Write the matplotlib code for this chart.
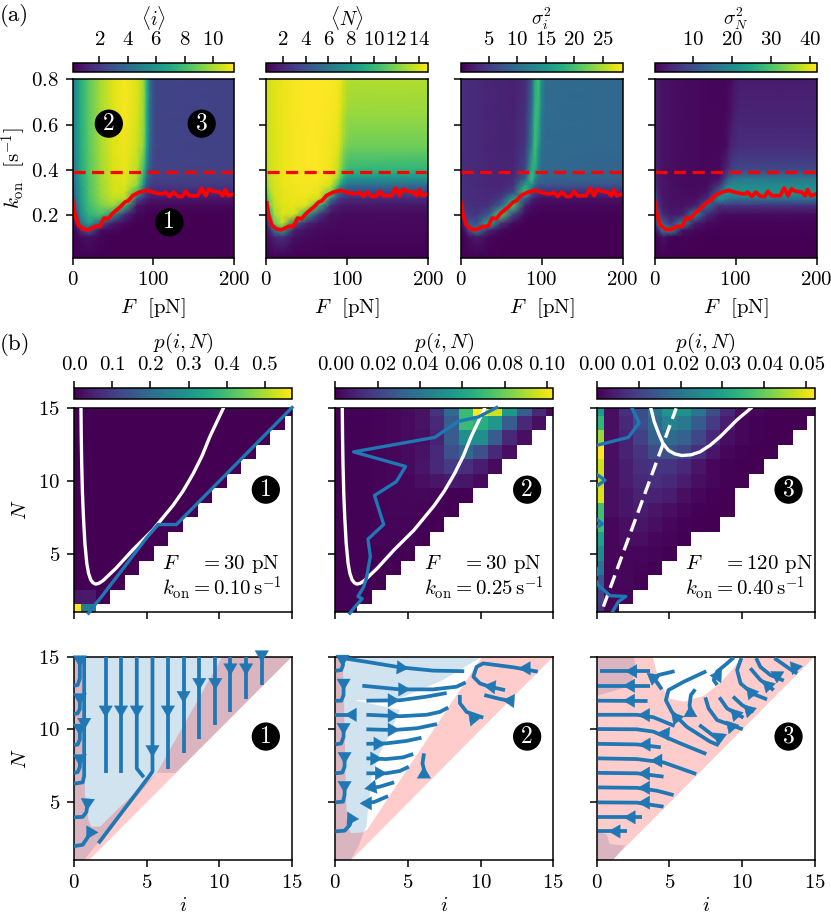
import numpy as np
import matplotlib
matplotlib.use('Agg')
import matplotlib.pyplot as plt
from matplotlib.patches import FancyArrowPatch

plt.rcParams.update({
    'font.family': ['cmr10', 'DejaVu Serif'], 'mathtext.fontset': 'cm',
    'axes.unicode_minus': False, 'axes.formatter.use_mathtext': True,
    'font.size': 15, 'axes.linewidth': 1.1,
    'xtick.major.width': 1.1, 'ytick.major.width': 1.1,
    'xtick.major.size': 5, 'ytick.major.size': 5,
    'xtick.major.pad': 5, 'ytick.major.pad': 5,
})

# ---------------- panel (a) data ----------------
F_grid = [0, 5, 10, 20, 35, 50, 65, 80, 88, 92, 96, 100, 105, 200]
k_grid = [.8, .65, .5, .4, .36, .33, .3, .27, .24, .2, .16, .13, .1, .01]

mean_i = [
    [4.6, 6.0, 7.2, 8.6, 10.0, 10.9, 11.3, 10.9, 9.8, 7.4, 4.4, 2.9, 2.4, 2.3],
    [4.6, 6.0, 7.2, 8.6, 10.0, 10.9, 11.3, 10.8, 9.7, 7.2, 4.2, 2.9, 2.4, 2.3],
    [4.5, 5.9, 7.1, 8.5, 10.0, 10.9, 11.2, 10.6, 9.4, 6.8, 3.9, 2.8, 2.4, 2.3],
    [4.2, 5.6, 6.9, 8.4, 9.9, 10.8, 11.1, 10.3, 8.0, 5.0, 3.2, 2.6, 2.4, 2.3],
    [3.9, 5.3, 6.7, 8.3, 9.9, 10.8, 11.0, 10.0, 7.0, 3.8, 2.7, 2.4, 2.3, 2.2],
    [3.5, 5.1, 6.5, 8.2, 9.8, 10.7, 10.9, 9.5, 6.0, 3.0, 2.4, 2.1, 2.0, 2.0],
    [3.0, 4.9, 6.3, 8.2, 9.8, 10.7, 10.7, 7.5, 3.5, 2.2, 1.7, 1.5, 1.4, 1.4],
    [2.2, 4.6, 6.2, 8.1, 9.6, 10.4, 10.2, 3.0, 1.6, 1.1, .9, .8, .8, .8],
    [1.4, 4.1, 6.0, 8.0, 9.2, 9.8, 7.5, .8, .6, .45, .4, .35, .35, .35],
    [.6, 3.0, 5.5, 7.5, 8.2, 6.0, 1.5, .25, .2, .17, .15, .15, .15, .15],
    [.3, 1.2, 4.0, 6.5, 3.0, .9, .3, .15, .13, .12, .12, .12, .12, .12],
    [.2, .4, 1.6, 3.5, .5, .3, .15, .12, .12, .12, .12, .12, .12, .12],
    [.15, .2, .4, .6, .2, .15, .12, .12, .11, .11, .11, .11, .11, .11],
    [.11, .11, .11, .11, .11, .11, .11, .11, .11, .11, .11, .11, .11, .11],
]
mean_N = [
    [13.6, 13.9, 14.1, 14.4, 14.6, 14.8, 14.8, 14.7, 14.6, 14.3, 13.8, 13.3, 13.1, 13.1],
    [13.5, 13.8, 14.1, 14.4, 14.6, 14.8, 14.8, 14.6, 14.5, 14, 13.3, 12.8, 12.6, 12.6],
    [13.4, 13.8, 14.0, 14.3, 14.6, 14.7, 14.7, 14.5, 14.2, 13.5, 12.5, 11.9, 11.6, 11.6],
    [13, 13.7, 14, 14.3, 14.6, 14.7, 14.7, 14.4, 13.6, 12.4, 11, 10.2, 9.9, 9.8],
    [12.5, 13.6, 14, 14.3, 14.6, 14.6, 14.6, 14.2, 12.8, 11, 9.2, 8.3, 7.8, 7.6],
    [12, 13.4, 13.9, 14.3, 14.5, 14.6, 14.5, 13.8, 11, 8.5, 7, 6, 5.6, 5.5],
    [11, 13, 13.8, 14.2, 14.5, 14.6, 14.4, 11.5, 6.5, 5, 4.2, 3.7, 3.5, 3.5],
    [9, 12.5, 13.6, 14.2, 14.4, 14.3, 13.8, 6.5, 3.5, 2.8, 2.5, 2.3, 2.2, 2.2],
    [6, 11.5, 13.4, 14.1, 14.3, 14, 10, 2.5, 1.7, 1.5, 1.4, 1.3, 1.3, 1.3],
    [3, 9, 12.8, 14, 13.8, 9, 2.8, 1.1, 1, 1, .9, .9, .9, .9],
    [1.5, 5, 11, 13.5, 5, 2, 1.1, .9, .9, .8, .8, .8, .8, .8],
    [1.1, 2, 6, 9, 1.6, 1.1, .9, .8, .8, .8, .8, .8, .8, .8],
    [.9, 1.2, 2, 2.5, 1.1, .9, .8, .7, .7, .7, .7, .7, .7, .7],
    [.55, .55, .55, .55, .55, .55, .55, .55, .55, .55, .55, .55, .55, .55],
]
var_i = [
    [3.6, 3.6, 3.5, 3.4, 3, 2.8, 2.6, 3.5, 8, 17, 20, 14, 10, 9.5],
    [3.6, 3.6, 3.5, 3.4, 3, 2.8, 2.6, 4, 10, 19, 19, 12, 10, 9.5],
    [3.6, 3.6, 3.5, 3.4, 3, 2.8, 2.7, 4.5, 13, 20, 16, 10.5, 9.8, 9.5],
    [3.7, 3.6, 3.5, 3.4, 3, 2.8, 3, 6, 18, 18, 12, 10, 9.5, 9],
    [3.8, 3.6, 3.5, 3.4, 3, 2.9, 3.2, 9, 20, 14, 10, 9.5, 9, 8.8],
    [4, 3.7, 3.6, 3.4, 3.1, 3, 4, 17, 14, 9.5, 8, 7.5, 7.3, 7.2],
    [4.5, 3.8, 3.6, 3.5, 3.2, 3.3, 6, 20, 8, 5.5, 4.5, 4, 3.8, 3.7],
    [4.5, 4, 3.7, 3.5, 3.4, 5, 16, 8, 3, 2, 1.5, 1.3, 1.2, 1.2],
    [4, 4.2, 3.8, 3.6, 4, 9, 20, 2.5, 1.2, .8, .6, .5, .5, .5],
    [2.5, 5, 5, 4.2, 8, 21, 6, .5, .3, .3, .2, .2, .2, .2],
    [1, 3, 8, 7, 18, 4, .5, .2, .1, .1, .1, .1, .1, .1],
    [.5, 1, 6, 14, 3, .6, .2, .1, .1, .1, .1, .1, .1, .1],
    [.2, .3, 1, 2, .5, .2, .1, 0, 0, 0, 0, 0, 0, 0],
    [0, 0, 0, 0, 0, 0, 0, 0, 0, 0, 0, 0, 0, 0],
]
var_N = [
    [3, 2.5, 2, 1.6, 1.2, 1, .8, .6, .7, 1, 1.5, 2.5, 3.2, 3.3],
    [3, 2.5, 2, 1.6, 1.2, 1, .8, .7, .9, 1.5, 2.5, 3.5, 4, 4],
    [3.2, 2.6, 2, 1.6, 1.2, 1, .8, .8, 1.2, 3, 4.5, 5, 5.5, 5.5],
    [4, 2.8, 2.1, 1.6, 1.2, 1, .9, 1, 4, 6, 8, 8.8, 9, 9],
    [5, 3, 2.2, 1.6, 1.3, 1, 1, 2, 8, 12, 15, 16, 16.5, 16.5],
    [6, 3.2, 2.3, 1.7, 1.3, 1.1, 1.2, 6, 16, 19, 20, 20, 20, 19.5],
    [8, 3.6, 2.4, 1.8, 1.4, 1.2, 2, 14, 22, 22, 21, 21, 21, 21],
    [11, 4.5, 2.6, 1.9, 1.5, 1.6, 5, 22, 18, 17, 16, 16, 15.5, 15.5],
    [14, 6, 3, 2, 1.8, 3, 15, 6, 6.5, 6.5, 6.2, 6, 6, 6],
    [10, 12, 5, 2.5, 3.5, 20, 5, 1.5, 1.2, 1.2, 1.2, 1.2, 1.2, 1.2],
    [3, 17, 14, 6, 20, 3, 1, .5, .4, .4, .4, .4, .4, .4],
    [1, 5, 18, 22, 2, .8, .4, .3, .2, .2, .2, .2, .2, .2],
    [.2, .5, 2, .2, .4, .2, .1, .1, .1, .1, .1, .1, .1, .1],
    [0, 0, 0, 0, 0, 0, 0, 0, 0, 0, 0, 0, 0, 0],
]
a_titles = [r'$\langle i\rangle$', r'$\langle N\rangle$', r'$\sigma_i^2$', r'$\sigma_N^2$']
a_limits = [(.11, 11.47), (.5, 14.8), (0, 28.5), (0, 41.8)]
a_cticks = [[2, 4, 6, 8, 10], [2, 4, 6, 8, 10, 12, 14], [5, 10, 15, 20, 25], [10, 20, 30, 40]]

red_F = [1, 3, 7, 13, 19, 28, 34, 39, 44, 50, 59, 65, 69, 75, 83, 92, 100, 108, 112, 115, 120, 125,
         131, 136, 140, 145, 155, 160, 165, 169, 174, 182, 186, 189, 193, 198]
red_k = [.252, .2, .155, .136, .133, .148, .148, .185, .182, .207, .234, .256, .262, .286, .3, .308,
         .299, .293, .293, .3, .281, .3, .281, .281, .304, .284, .284, .318, .284, .314, .304, .3,
         .284, .311, .284, .29]
dash_F = [1, 198]
dash_k = [.39, .39]

# ---------------- panel (b) distributions, rows N = 1..15, entries i = 0..N ----------------
p1 = [[.571, .24], [.035, .04, .002]] + [[0.0005] * (n + 1) for n in range(3, 16)]
p2 = [
    [.0005, .0002],
    [.0005, .0005, .0002],
    [.0005, .0005, .0005, .0002],
    [.0004, .0006, .0006, .0004, .0002],
    [.0004, .0006, .0008, .0008, .0006, .0002],
    [.0003, .0006, .0008, .001, .001, .0006, .0002],
    [.0003, .0005, .0008, .001, .0012, .001, .0006, .0002],
    [.0003, .0005, .0008, .001, .0014, .0014, .001, .0006, .0002],
    [.0002, .0005, .0008, .001, .0015, .002, .002, .0015, .0008, .0003],
    [.0002, .0005, .0008, .001, .0015, .002, .004, .006, .007, .006, .003],
    [.0002, .0005, .0008, .001, .002, .003, .006, .012, .018, .014, .008, .003],
    [.0002, .0005, .0008, .001, .002, .003, .005, .012, .025, .035, .025, .012, .004],
    [.0002, .0005, .0008, .001, .002, .003, .004, .01, .03, .05, .05, .03, .012, .004],
    [.0002, .0005, .0008, .001, .002, .003, .005, .012, .03, .07, .065, .055, .03, .012, .004],
    [.0002, .0005, .0008, .001, .002, .003, .005, .015, .035, .07, .103, .095, .055, .03, .012, .003],
]
p3 = [
    [.008, .001],
    [.01, .001, .0005],
    [.014, .001, .001, .0003],
    [.02, .001, .001, .0005, .0002],
    [.025, .001, .001, .001, .0005, .0002],
    [.03, .001, .002, .002, .001, .0005, .0002],
    [.036, .001, .002, .003, .002, .001, .0004, .0002, .0001],
    [.036, .002, .003, .004, .003, .002, .001, .0004, .0002, .0001],
    [.049, .002, .003, .005, .005, .004, .002, .001, .0004, .0002],
    [.047, .002, .004, .006, .007, .006, .004, .002, .001, .0004, .0002],
    [.048, .002, .004, .007, .008, .008, .006, .003, .001, .0004, .0002, .0001],
    [.052, .002, .005, .008, .012, .013, .011, .007, .003, .001, .0004, .0002, .0001],
    [.044, .002, .005, .01, .016, .018, .016, .011, .006, .002, .001, .0004, .0002, .0001],
    [.034, .002, .006, .012, .018, .023, .021, .015, .009, .004, .001, .0004, .0002, .0001, .0001],
    [.028, .002, .007, .012, .02, .027, .026, .02, .012, .006, .002, .001, .0004, .0002, .0001, .0001],
]
p_data = [p1, p2, p3]
p_limits = [.571, .103, .052]
p_cticks = [[0, .1, .2, .3, .4, .5], [0, .02, .04, .06, .08, .1], [0, .01, .02, .03, .04, .05]]
p_cfmt = ['%.1f', '%.2f', '%.2f']
b_F = ['30', '30', '120']
b_k = ['0.10', '0.25', '0.40']
marks = ['1', '2', '3']

white_i12 = [.48, .5, .53, .58, .65, .75, .88, 1.0, 1.15, 1.3, 1.47, 1.7, 2, 2.9, 4.05, 5.4, 6.8, 7.5, 8.2, 8.8, 9.35, 10.27]
white_N12 = [15, 13, 11.2, 9.2, 7.5, 5.7, 4.33, 3.65, 3.2, 3.0, 2.9, 2.95, 3.14, 4, 5.26, 6.6, 8.3, 9.3, 10.5, 11.7, 13.05, 15]
white_i3 = [3.73, 3.95, 4.25, 4.55, 4.94, 5.4, 5.86, 6.5, 7.1, 7.8, 8.5, 9.65, 10.6]
white_N3 = [15, 14.1, 13.3, 12.6, 12.1, 11.85, 11.75, 11.8, 12, 12.45, 13.05, 14.2, 15]
dash_i3 = [.46, 5.47]
dash_N3 = [1.35, 15]

blue_i1 = [1, 1.5, 1.87, 4.97, 5.78, 7.05, 15]
blue_N1 = [.9, 1.55, 2, 6.05, 7, 7, 15.05]
blue_i2 = [1, 1.45, 1.85, 1.56, 1.95, 2.14, 2.41, 2.25, 3.33, 2.7, 4.2, 4.83, 1.26, 6.85, 8.46, 9.84, 11.1]
blue_N2 = [.9, 1.45, 1.9, 2.05, 2.7, 3.3, 4.8, 6, 7, 9, 9.95, 11, 12, 13, 14.1, 14.4, 15.05]
blue_i3 = [1.03, 1.5, 2, .92, .11, -.2, .23, -.2, -.2, .4, -.2, -.2, .57, -.2, -.2, 2.18, 2.92, 2.41]
blue_N3 = [.9, 1.7, 2.05, 2.1, 2.83, 3.4, 3.7, 4.2, 6.7, 7.05, 7.5, 9.5, 10.05, 10.6, 12.4, 13, 14, 15.05]
blue_lines = [(blue_i1, blue_N1), (blue_i2, blue_N2), (blue_i3, blue_N3)]

# ---------------- flow panels: regions ----------------
blue_reg_1 = [(0, 1), (.7, 1), (1.5, 2), (5.7, 7), (7, 7), (15, 15), (0, 15)]
red_reg_1 = [(0, 1), (1.05, 1), (15, 15), (10.2, 15), (5.7, 7.0), (2.9, 4.4), (1.8, 3.3), (1.2, 3.3), (1, 3.75),
             (.75, 5.5), (.75, 15), (0, 15)]
blue_reg_2 = [(0, 1), (1.05, 1), (1.6, 1.95), (1.95, 2.9), (2.14, 3.3), (2.25, 4.44), (2.5, 6.74), (3.06, 8.35),
              (3.75, 9.7), (4.44, 11.33), (1.35, 12), (4.44, 12.13),
              (7.43, 13.4), (10.1, 15), (0, 15)]
red_reg_2 = [(0, 1), (1.1, 1), (15, 15), (10.1, 15), (2.2, 3.1), (1.9, 2.9), (1.1, 2.85), (.85, 3.3),
             (.75, 5), (.6, 12), (.5, 15), (0, 15)]
blue_reg_3a = [(0, 15), (2.55, 15), (2.65, 14.5), (2.4, 13), (0, 12.3)]
blue_reg_3b = [(0, 3), (.7, 2.75), (.9, 2.1), (1.95, 2), (1.15, 1), (0, 1)]
red_reg_3 = [(0, 1), (1.1, 1), (15, 15), (10, 15), (9.4, 14.2), (8.5, 13.2), (7.35, 12.3), (6, 11.9),
             (5.05, 12.1), (4.5, 12.9), (4.2, 13.7), (3.85, 15), (0, 15)]

# ---------------- flow panels: stream lines (i, N) ----------------
flow1 = [
    [(2.18, 15), (2.18, 7)], [(3.24, 15), (3.24, 7)],
    [(4.32, 15), (4.32, 7.3), (4.8, 6.7)],
    [(5.4, 15), (5.4, 7.1), (5.2, 6.8), (1.68, 2.15)],
    [(6.46, 15), (6.46, 7.3)], [(7.54, 15), (7.54, 8.4)], [(8.62, 15), (8.62, 9.33)],
    [(9.72, 15), (9.72, 10.3)], [(10.76, 15), (10.76, 11.2)], [(11.84, 15), (11.84, 12.1)],
    [(12.92, 15), (12.92, 13.05)],
    [(.7, 15), (.7, 6.8), (.6, 6.35), (0, 6.25)],
    [(.4, 15), (.4, 13.5), (.25, 13.05), (0, 13)],
    [(.4, 12), (.4, 11.4), (.25, 11.1), (0, 11.05)],
    [(.4, 10), (.4, 9.3), (.25, 8.95), (0, 8.9)],
    [(.4, 8), (.4, 7.4), (.25, 7.05), (0, 7)],
    [(0, 3.94), (.6, 3.97), (.85, 4.3), (.95, 5)],
    [(0, 1.95), (.6, 2.05), (.9, 2.5), (1.1, 2.9)],
]
heads1 = [
    (2.18, 11.6, 2.18, 10.8), (3.24, 11.6, 3.24, 10.8), (4.32, 11.6, 4.32, 10.8),
    (5.4, 8.85, 5.4, 8.07), (6.46, 11.6, 6.46, 10.8), (7.54, 12.6, 7.54, 11.8),
    (8.62, 13.5, 8.62, 12.7), (9.72, 13.5, 9.72, 12.7), (10.76, 14.47, 10.76, 13.7),
    (11.84, 14.47, 11.84, 13.7), (12.92, 15.4, 12.92, 14.6),
    (.7, 10.7, .7, 9.95), (.4, 15, .4, 14.25), (.4, 12.4, .4, 11.65), (.4, 10.3, .4, 9.55),
    (.4, 8.2, .4, 7.45), (.95, 5.15, .9, 4.4), (.95, 2.9, 1.68, 2.9),
]
flow2 = [
    [(.53, 14.9), (2.14, 14.65), (4.44, 14.27), (6.74, 14.04), (8.87, 14)],
    [(1.86, 13), (4.44, 12.75), (6.74, 12.75), (8.34, 12.93), (8.97, 13.23)],
    [(2.14, 11.97), (4.44, 12), (6.28, 12.25), (7.66, 12.5)],
    [(2.14, 11), (4.44, 10.9), (6.28, 11), (7.2, 11.2), (7.77, 11.5)],
    [(2.14, 10), (3.98, 9.95), (5.6, 10.07), (7, 10.36)],
    [(2.14, 9), (3.5, 9.03), (4.9, 9.2), (5.93, 9.42)],
    [(2.14, 8), (3.5, 7.95), (4.67, 8.07), (5.36, 8.3)],
    [(2.14, 6.97), (3.5, 6.97), (4.44, 7.13), (5.06, 7.42)],
    [(4.05, 6.35), (3.06, 6.05), (2.25, 5.93)],
    [(3.63, 5.4), (2.7, 5), (1.9, 4.9)],
    [(0, 14.03), (.41, 14.08), (.53, 14.43), (.53, 15.05)],
    [(0, 11.97), (.41, 11.97), (.57, 12.36), (.57, 13.05)],
    [(0, 11), (1.33, 11)],
    [(0, 8.96), (.41, 9.03), (.57, 9.5), (.57, 10.18)],
    [(0, 6.97), (.48, 7.02), (.64, 7.43), (.64, 8.23)],
    [(0, 4.97), (.53, 5.02), (.64, 5.5), (.64, 6.16)],
    [(0, 2.97), (.64, 3.02), (.99, 3.4), (1.1, 3.75)],
    [(13.93, 13.97), (12.25, 14.27), (10.18, 14.54), (9.72, 14.3), (9.5, 13.62), (9.95, 13.16),
     (10.64, 12.93), (11.68, 12.7)],
    [(10.25, 12.36), (11.33, 12.09), (12.1, 11.95)],
    [(8.57, 12.36), (8.57, 11.8), (9.03, 11.2), (10.18, 10.8)],
    [(6.1, 8.34), (6, 7.65), (6.16, 6.97)],
]
heads2 = [
    (4.2, 14.27, 5.06, 14.2), (4.44, 12.75, 5.17, 12.75), (3.7, 12, 4.44, 12), (3.7, 10.95, 4.44, 10.95),
    (3.7, 9.97, 4.44, 9.97), (2.7, 9, 3.47, 9), (2.55, 7.98, 3.24, 7.98), (2.9, 6.97, 3.56, 6.97),
    (2.55, 6, 2, 5.9), (2.25, 4.9, 1.68, 4.9), (.5, 15.1, .5, 14.3), (.57, 13.4, .57, 12.65),
    (1.4, 11, .64, 11), (.57, 10.36, .57, 9.6), (.64, 8.34, .64, 7.6), (.64, 6.33, .64, 5.6),
    (.87, 3.85, 1.63, 3.82), (13.4, 14.2, 12.6, 14.2), (11, 12.9, 10.2, 13), (12.25, 11.95, 11.5, 12),
    (9.6, 10.6, 9.15, 11.15), (6.1, 6.7, 6.1, 7.45),
]
flow3 = [
    [(.23, 14), (3.68, 14)], [(.07, 13), (3.68, 13)], [(.07, 11.97), (3.5, 11.95)],
    [(.07, 11), (2.76, 11), (3.9, 10.83), (5.36, 10.23)],
    [(.07, 10.02), (2.76, 10), (3.9, 9.84), (5.75, 9.03), (7.54, 8.3)],
    [(.07, 9), (2.76, 8.96), (4.41, 8.76)],
    [(.07, 8), (2.76, 7.95), (4.6, 7.72), (6.85, 6.92)],
    [(.07, 7), (2.76, 6.97), (4.6, 6.74)],
    [(.07, 6), (2.76, 5.97), (4.14, 5.77), (5.29, 5.47)],
    [(.07, 4.97), (2.76, 4.95), (4.6, 4.67)],
    [(.07, 3.94), (3.1, 3.94)], [(.07, 2.97), (2.07, 2.97)],
    [(5.36, 14), (4.25, 13.74), (4.02, 13.4), (4.48, 12.75)],
    [(7.54, 14), (6, 13.28), (4.94, 12.7), (4.76, 12), (5.17, 11.2), (6.2, 10.17), (7.8, 9.15), (8.4, 8.9)],
    [(7.06, 10.3), (8.28, 9.37), (8.4, 9.1)],
    [(6.78, 12.75), (6.48, 12.36), (6.39, 11.67), (6.44, 11.2)],
    [(7.47, 12.2), (7.7, 11.44), (8.28, 10.64), (10.05, 10)],
    [(8.44, 12.2), (8.97, 11.44), (10.1, 10.8)],
    [(9.38, 12.25), (10, 11.67), (10.8, 11.2)],
    [(9.95, 14.9), (9.66, 14.08), (9.9, 13.16), (10.7, 12.47), (11.72, 12.06)],
    [(10.57, 14.2), (11.26, 13.4), (12.18, 12.7)],
    [(10.97, 14.9), (11.26, 14.3), (11.95, 13.74), (12.87, 13.35)],
    [(12.23, 14.9), (13.33, 14.13), (13.8, 13.85)],
    [(8.28, 13.05), (8.05, 13.4), (8.28, 13.97), (8.97, 14.54), (9.43, 14.95)],
]
heads3 = [
    (2.64, 14, 1.95, 14), (2.53, 13, 1.8, 13), (2.53, 11.97, 1.8, 11.97), (3.5, 10.98, 2.83, 10.98),
    (4.99, 9.68, 4.18, 9.77), (3.68, 8.95, 2.87, 8.95), (4.41, 7.84, 3.68, 7.84), (3.56, 6.95, 2.83, 6.95),
    (3.56, 5.97, 2.83, 5.97), (3.56, 4.95, 2.83, 4.95), (2.53, 3.94, 1.84, 3.94), (1.54, 2.97, .8, 2.97),
    (3.9, 13.7, 3.8, 13), (5.55, 10.7, 5.12, 11.2), (8.48, 9.65, 8.4, 8.9), (6.45, 10.9, 6.45, 11.67),
    (9.43, 10, 8.9, 10.6), (9.77, 10.82, 9.2, 11.44), (10.6, 11.2, 10.1, 11.7), (10.85, 12.25, 10.3, 12.95),
    (11.9, 12.9, 11.4, 13.4), (12.6, 13.6, 11.95, 14), (13.68, 14.36, 13.45, 13.74), (8.16, 13.44, 8.62, 14.13),
]

# ---------------- layout helpers ----------------
W, H = 831, 918
fig = plt.figure(figsize=(W / 100, H / 100), dpi=100)
BLUE = '#1f77b4'


def px_axes(x0, y0, x1, y1):
    return fig.add_axes([x0 / W, 1 - y1 / H, (x1 - x0) / W, (y1 - y0) / H])


def colorbar(x0, x1, y0, y1, mesh, ticks, title, fmt=None, pad=3, size=15):
    cax = px_axes(x0, y0, x1, y1)
    cb = fig.colorbar(mesh, cax=cax, orientation='horizontal', ticks=ticks, format=fmt)
    cax.xaxis.set_ticks_position('top')
    cax.xaxis.set_label_position('top')
    cb.set_label(title, labelpad=pad, fontsize=size)
    cb.outline.set_linewidth(1.1)
    return cb


def badge(ax, x, y, s):
    ax.text(x, y, s, color='white', ha='center', va='center', fontsize=17,
            bbox=dict(boxstyle='circle,pad=0.1', fc='black', ec='black'), zorder=6)


# ---------------- row (a) ----------------
a_x = [(72.5, 234), (266, 428), (460.5, 622.5), (654.5, 816.5)]
a_fields = [mean_i, mean_N, var_i, var_N]
for n, (xr, field) in enumerate(zip(a_x, a_fields)):
    ax = px_axes(xr[0], 79.5, xr[1], 257.5)
    vmin, vmax = a_limits[n]
    mesh = ax.pcolormesh(F_grid, k_grid, np.array(field, float), shading='gouraud',
                         cmap='viridis', vmin=vmin, vmax=vmax)
    ax.plot(red_F, red_k, color='red', lw=2.7, solid_joinstyle='round')
    ax.plot(dash_F, dash_k, color='red', lw=2.3, dashes=(3.8, 2))
    ax.set_xlim(0, 200)
    ax.set_ylim(.01, .8)
    ax.set_xticks([0, 100, 200])
    ax.set_yticks([.2, .4, .6, .8])
    ax.set_xlabel(r'$F$  [pN]', labelpad=5)
    if n == 0:
        ax.set_ylabel(r'$k_\mathrm{on}$  [s$^{-1}$]', labelpad=2)
        badge(ax, 45, .604, '2')
        badge(ax, 160, .604, '3')
        badge(ax, 120, .166, '1')
    else:
        ax.set_yticklabels([])
    colorbar(xr[0], xr[1], 62.5, 72, mesh, a_cticks[n], a_titles[n], pad=4, size=14)

fig.text(0, 1 - 21 / H, '(a)', fontsize=16.5, ha='left', va='baseline')
fig.text(0, 1 - 350 / H, '(b)', fontsize=16.5, ha='left', va='baseline')

# ---------------- row (b) distributions ----------------
b_x = [(74, 292), (335.3, 553.3), (596.7, 814.7)]
i_edges = np.arange(-.5, 16)
N_edges = np.arange(.5, 16)
for n, xr in enumerate(b_x):
    ax = px_axes(xr[0], 408.3, xr[1], 611.7)
    grid = np.full((15, 16), np.nan)
    for r, row in enumerate(p_data[n]):
        grid[r, :len(row)] = row
    mesh = ax.pcolormesh(i_edges, N_edges, np.ma.masked_invalid(grid), cmap='viridis',
                         vmin=0, vmax=p_limits[n], linewidth=0, antialiased=False)
    if n < 2:
        ax.plot(white_i12, white_N12, color='white', lw=2.4, zorder=3)
    else:
        ax.plot(white_i3, white_N3, color='white', lw=2.4, zorder=3)
        ax.plot(dash_i3, dash_N3, color='white', lw=2.4, dashes=(4, 2), zorder=3)
    bi, bn = blue_lines[n]
    ax.plot(bi, bn, color=BLUE, lw=2.4, zorder=4, clip_on=(n == 2))
    ax.set_xlim(0, 15)
    ax.set_ylim(1, 15)
    ax.set_xticks([0, 5, 10, 15])
    ax.set_yticks([5, 10, 15])
    ax.set_xticklabels([])
    if n == 0:
        ax.set_ylabel(r'$N$', labelpad=6)
    else:
        ax.set_yticklabels([])
    ax.text(6.08, 2.1, r'$F\quad\ = %s$ pN' % b_F[n] + '\n' + r'$k_\mathrm{on} = %s\,\mathrm{s}^{-1}$' % b_k[n],
            ha='left', va='baseline', linespacing=.98, zorder=5)
    badge(ax, 13.2, 9.4, marks[n])
    colorbar(xr[0], xr[1], 388.3, 399, mesh, p_cticks[n], r'$p(i,N)$', p_cfmt[n], pad=6, size=15)

# ---------------- row (c) flow ----------------
flows = [flow1, flow2, flow3]
heads = [heads1, heads2, heads3]
blues = [[blue_reg_1], [blue_reg_2], [blue_reg_3a, blue_reg_3b]]
reds = [red_reg_1, red_reg_2, red_reg_3]
for n, xr in enumerate(b_x):
    ax = px_axes(xr[0], 656.7, xr[1], 860)
    for poly in blues[n]:
        px, py = zip(*poly)
        ax.fill(px, py, color=BLUE, alpha=.2, lw=0, zorder=1)
    px, py = zip(*reds[n])
    ax.fill(px, py, color='red', alpha=.2, lw=0, zorder=1)
    for line in flows[n]:
        lx, ly = zip(*line)
        ax.plot(lx, ly, color=BLUE, lw=2.7, zorder=3, solid_capstyle='butt')
    for x0, y0, x1, y1 in heads[n]:
        ax.add_patch(FancyArrowPatch((x0, y0), (x1, y1), arrowstyle='-|>,head_length=0.82,head_width=0.48',
                                     mutation_scale=10, shrinkA=0, shrinkB=0, lw=.3, fc=BLUE, ec=BLUE,
                                     clip_on=False, zorder=4))
    ax.set_xlim(0, 15)
    ax.set_ylim(1, 15)
    ax.set_xticks([0, 5, 10, 15])
    ax.set_yticks([5, 10, 15])
    ax.set_xlabel(r'$i$', labelpad=4)
    if n == 0:
        ax.set_ylabel(r'$N$', labelpad=6)
    else:
        ax.set_yticklabels([])
    badge(ax, 13.2, 9.5, marks[n])

fig.savefig('out.png', dpi=100)
